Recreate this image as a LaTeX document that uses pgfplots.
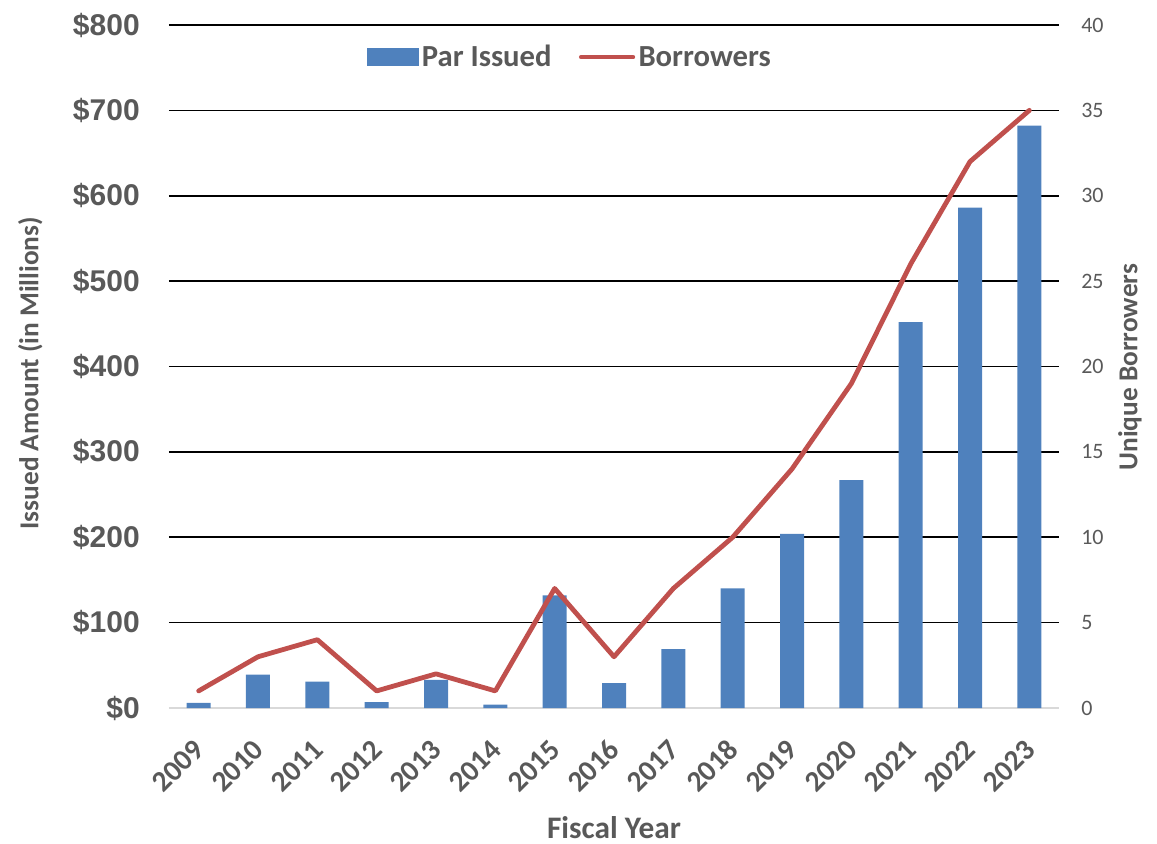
\documentclass[border=0pt]{standalone}
\usepackage{pgfplots}
\pgfplotsset{compat=1.18}
\usepackage{fontspec}
\setmainfont{Carlito}
\newfontfamily\arialfont{Liberation Sans}
\definecolor{barblue}{HTML}{4F81BD}
\definecolor{linered}{HTML}{C0504D}
\definecolor{txtgray}{HTML}{595959}
\definecolor{basegray}{HTML}{D9D9D9}

\begin{document}
\begin{tikzpicture}
% fixed page frame around the plot area
\path[use as bounding box] (-126.75pt,-101.25pt) rectangle (741pt,531pt);
% Par issued (left axis, $ millions)
\begin{axis}[
  scale only axis, width=667.5pt, height=512.25pt,
  xmin=-0.5, xmax=14.5, ymin=0, ymax=800,
  axis x line*=bottom, axis y line*=left,
  x axis line style={draw=basegray, line width=2.2pt, -},
  y axis line style={draw=none},
  major tick length=0pt,
  xtick={0,...,14},
  xticklabels={2009,2010,2011,2012,2013,2014,2015,2016,2017,2018,2019,2020,2021,2022,2023},
  xticklabel style={inner sep=0pt, anchor=east, xshift=0.5pt, yshift=-27.5pt, rotate=45,
    font=\fontsize{22}{24}\selectfont\bfseries, text=txtgray},
  ytick={100,200,...,800},
  yticklabels={\$100,\$200,\$300,\$400,\$500,\$600,\$700,\$800},
  extra y ticks={0}, extra y tick labels={\$0},
  extra y tick style={grid=none},
  yticklabel style={inner sep=0pt, anchor=east, xshift=-21.75pt,
    font=\arialfont\fontsize{22.5}{26}\selectfont\bfseries, text=txtgray},
  ymajorgrids, grid style={black, line width=1.3pt},
  xlabel={Fiscal Year},
  xlabel style={at={(axis description cs:0.5,0)}, anchor=base, inner sep=0pt, yshift=-98pt,
    font=\fontsize{23.5}{26}\selectfont\bfseries, text=txtgray},
  ylabel={Issued Amount (in Millions)},
  ylabel style={at={([xshift=-104pt]axis description cs:0,0.49)}, anchor=center,
    font=\fontsize{20.5}{24}\selectfont\bfseries, text=txtgray},
  legend style={draw=none, fill=none, legend columns=2, at={(0.451,0.953)}, anchor=center,
    inner sep=0pt, font=\fontsize{23}{26}\selectfont\bfseries, text=txtgray,
    nodes={inner sep=2.5pt},
    /tikz/every even column/.append style={column sep=18pt}},
]
\addplot[ybar, bar width=18pt, fill=barblue, draw=none,
  legend image code/.code={\fill[barblue] (0pt,-6.75pt) rectangle (39pt,6.75pt);}]
  coordinates {(0,6) (1,39) (2,31) (3,7) (4,33) (5,4) (6,132) (7,29) (8,69) (9,140) (10,204) (11,267) (12,452) (13,586) (14,682)};
\addlegendentry{Par Issued}
\addlegendimage{linered, line width=3.2pt, legend image code/.code={\draw[linered, line width=3.2pt, line cap=round] (1pt,0pt) -- (40pt,0pt);}}
\addlegendentry{Borrowers}
\end{axis}
% Unique borrowers (right axis)
\begin{axis}[
  scale only axis, width=667.5pt, height=512.25pt,
  xmin=-0.5, xmax=14.5, ymin=0, ymax=40,
  axis x line=none, axis y line*=right,
  y axis line style={draw=none},
  major tick length=0pt,
  ytick={0,5,...,40},
  /pgf/number format/assume math mode=true,
  yticklabel style={inner sep=0pt, anchor=west, xshift=16.5pt,
    font=\fontsize{16.5}{20}\selectfont, text=txtgray},
  ylabel={Unique Borrowers},
  ylabel style={at={([xshift=53.25pt]axis description cs:1,0.499)}, anchor=center,
    font=\fontsize{20.5}{24}\selectfont\bfseries, text=txtgray},
]
\addplot[linered, line width=3.6pt, line join=round, line cap=round, mark=none]
  coordinates {(0,1) (1,3) (2,4) (3,1) (4,2) (5,1) (6,7) (7,3) (8,7) (9,10) (10,14) (11,19) (12,26) (13,32) (14,35)};
\end{axis}
\end{tikzpicture}
\end{document}
